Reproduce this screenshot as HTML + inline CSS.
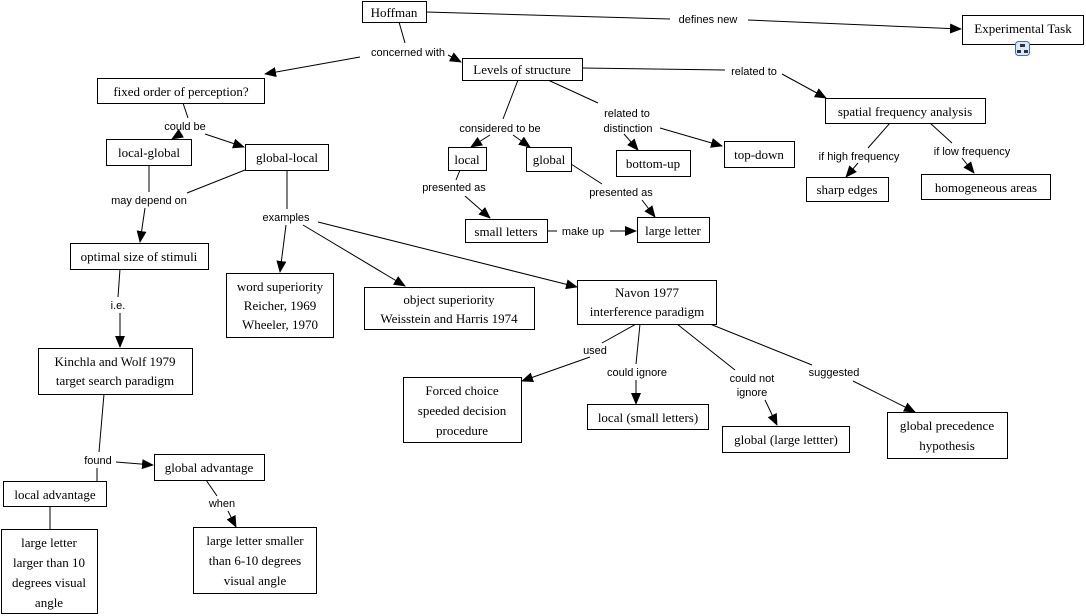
<!DOCTYPE html>
<html><head><meta charset="utf-8"><style>
html,body{margin:0;padding:0;background:#fff;width:1086px;height:616px;overflow:hidden}
svg{display:block}
.n{fill:#fff;stroke:#000;stroke-width:1}
.t{font-family:"Liberation Serif",serif;font-size:13px;fill:#000;text-anchor:middle}
.l{font-family:"Liberation Sans",sans-serif;font-size:11px;fill:#000;text-anchor:middle}
line{stroke:#000;stroke-width:1}
</style></head><body>
<svg width="1086" height="616" xmlns="http://www.w3.org/2000/svg">
<defs><marker id="a" markerWidth="12" markerHeight="10" refX="11" refY="5" orient="auto" markerUnits="userSpaceOnUse"><path d="M0,0 L12,5 L0,10 z" fill="#000"/></marker></defs>
<g>
<line x1="399" y1="22" x2="405" y2="43"/>
<line x1="360" y1="57" x2="265" y2="74" marker-end="url(#a)"/>
<line x1="448" y1="55" x2="461" y2="62" marker-end="url(#a)"/>
<line x1="426" y1="12" x2="670" y2="19"/>
<line x1="748" y1="20" x2="961" y2="29" marker-end="url(#a)"/>
<line x1="582" y1="68" x2="725" y2="70"/>
<line x1="782" y1="74" x2="826" y2="98" marker-end="url(#a)"/>
<line x1="518" y1="80" x2="503" y2="119"/>
<line x1="490" y1="135" x2="471" y2="147" marker-end="url(#a)"/>
<line x1="513" y1="135" x2="530" y2="147" marker-end="url(#a)"/>
<line x1="548" y1="80" x2="598" y2="103"/>
<line x1="624" y1="134" x2="638" y2="150" marker-end="url(#a)"/>
<line x1="660" y1="128" x2="722" y2="146" marker-end="url(#a)"/>
<line x1="890" y1="123" x2="868" y2="148"/>
<line x1="858" y1="163" x2="846" y2="177" marker-end="url(#a)"/>
<line x1="930" y1="123" x2="952" y2="143"/>
<line x1="962" y1="158" x2="974" y2="173" marker-end="url(#a)"/>
<line x1="183" y1="103" x2="188" y2="118"/>
<line x1="180" y1="134" x2="172" y2="139" marker-end="url(#a)"/>
<line x1="205" y1="134" x2="244" y2="147" marker-end="url(#a)"/>
<line x1="149" y1="165" x2="149" y2="192"/>
<line x1="245" y1="170" x2="187" y2="193"/>
<line x1="145" y1="208" x2="140" y2="242" marker-end="url(#a)"/>
<line x1="287" y1="170" x2="287" y2="209"/>
<line x1="286" y1="225" x2="280" y2="272" marker-end="url(#a)"/>
<line x1="303" y1="225" x2="405" y2="286" marker-end="url(#a)"/>
<line x1="318" y1="222" x2="577" y2="287" marker-end="url(#a)"/>
<line x1="460" y1="170" x2="456" y2="180"/>
<line x1="465" y1="196" x2="490" y2="218" marker-end="url(#a)"/>
<line x1="571" y1="164" x2="602" y2="184"/>
<line x1="642" y1="200" x2="655" y2="217" marker-end="url(#a)"/>
<line x1="547" y1="231" x2="557" y2="231"/>
<line x1="610" y1="231" x2="636" y2="231" marker-end="url(#a)"/>
<line x1="120" y1="269" x2="118" y2="297"/>
<line x1="120" y1="313" x2="120" y2="347" marker-end="url(#a)"/>
<line x1="104" y1="394" x2="99" y2="452"/>
<line x1="116" y1="462" x2="153" y2="465" marker-end="url(#a)"/>
<line x1="97" y1="468" x2="97" y2="481"/>
<line x1="50" y1="506" x2="50" y2="529"/>
<line x1="206" y1="480" x2="217" y2="496"/>
<line x1="228" y1="511" x2="236" y2="527" marker-end="url(#a)"/>
<line x1="636" y1="324" x2="602" y2="343"/>
<line x1="590" y1="357" x2="522" y2="381" marker-end="url(#a)"/>
<line x1="640" y1="324" x2="636" y2="364"/>
<line x1="636" y1="380" x2="636" y2="404" marker-end="url(#a)"/>
<line x1="677" y1="324" x2="735" y2="370"/>
<line x1="765" y1="400" x2="777" y2="425" marker-end="url(#a)"/>
<line x1="710" y1="324" x2="812" y2="365"/>
<line x1="853" y1="381" x2="915" y2="412" marker-end="url(#a)"/>
</g>
<g>
<rect x="362.5" y="1.5" width="64" height="21" class="n"/><text x="394" y="17" class="t">Hoffman</text>
<rect x="962.5" y="15.5" width="121" height="29" class="n"/><text x="1023" y="33" class="t">Experimental Task</text>
<rect x="1015.5" y="41.5" width="14" height="14" rx="3" fill="#dbe8fb" stroke="#3a6fc4"/><rect x="1020" y="44" width="5" height="3" fill="#333"/><rect x="1017" y="50" width="4" height="3" fill="#333"/><rect x="1024" y="50" width="4" height="3" fill="#333"/>
<rect x="462.5" y="58.5" width="120" height="22" class="n"/><text x="522" y="74" class="t">Levels of structure</text>
<rect x="97.5" y="78.5" width="167" height="25" class="n"/><text x="181" y="96" class="t">fixed order of perception?</text>
<rect x="106.5" y="139.5" width="85" height="26" class="n"/><text x="149" y="157" class="t">local-global</text>
<rect x="245.5" y="144.5" width="83" height="26" class="n"/><text x="287" y="162" class="t">global-local</text>
<rect x="448.5" y="147.5" width="38" height="23" class="n"/><text x="467" y="164" class="t">local</text>
<rect x="526.5" y="147.5" width="45" height="24" class="n"/><text x="549" y="164" class="t">global</text>
<rect x="616.5" y="150.5" width="74" height="26" class="n"/><text x="653" y="168" class="t">bottom-up</text>
<rect x="724.5" y="141.5" width="70" height="26" class="n"/><text x="759" y="159" class="t">top-down</text>
<rect x="825.5" y="98.5" width="160" height="25" class="n"/><text x="905" y="116" class="t">spatial frequency analysis</text>
<rect x="806.5" y="177.5" width="82" height="24" class="n"/><text x="847" y="194" class="t">sharp edges</text>
<rect x="921.5" y="174.5" width="129" height="25" class="n"/><text x="986" y="192" class="t">homogeneous areas</text>
<rect x="465.5" y="219.5" width="82" height="23" class="n"/><text x="506" y="236" class="t">small letters</text>
<rect x="637.5" y="217.5" width="72" height="25" class="n"/><text x="673" y="235" class="t">large letter</text>
<rect x="70.5" y="243.5" width="138" height="26" class="n"/><text x="139" y="261" class="t">optimal size of stimuli</text>
<rect x="226.5" y="273.5" width="107" height="64" class="n"/><text x="280" y="291" class="t">word superiority</text><text x="280" y="310" class="t">Reicher, 1969</text><text x="280" y="329" class="t">Wheeler, 1970</text>
<rect x="364.5" y="287.5" width="170" height="42" class="n"/><text x="449" y="304" class="t">object superiority</text><text x="449" y="323" class="t">Weisstein and Harris 1974</text>
<rect x="577.5" y="280.5" width="139" height="44" class="n"/><text x="647" y="297" class="t">Navon 1977</text><text x="647" y="316" class="t">interference paradigm</text>
<rect x="38.5" y="348.5" width="154" height="46" class="n"/><text x="115" y="366" class="t">Kinchla and Wolf 1979</text><text x="115" y="385" class="t">target search paradigm</text>
<rect x="403.5" y="377.5" width="118" height="65" class="n"/><text x="462" y="395" class="t">Forced choice</text><text x="462" y="415" class="t">speeded decision</text><text x="462" y="435" class="t">procedure</text>
<rect x="587.5" y="404.5" width="121" height="25" class="n"/><text x="648" y="422" class="t">local (small letters)</text>
<rect x="722.5" y="426.5" width="127" height="26" class="n"/><text x="786" y="444" class="t">global (large lettter)</text>
<rect x="887.5" y="412.5" width="120" height="46" class="n"/><text x="947" y="430" class="t">global precedence</text><text x="947" y="450" class="t">hypothesis</text>
<rect x="154.5" y="454.5" width="110" height="26" class="n"/><text x="209" y="472" class="t">global advantage</text>
<rect x="3.5" y="481.5" width="103" height="25" class="n"/><text x="55" y="499" class="t">local advantage</text>
<rect x="1.5" y="529.5" width="96" height="84" class="n"/><text x="49" y="547" class="t">large letter</text><text x="49" y="567" class="t">larger than 10</text><text x="49" y="587" class="t">degrees visual</text><text x="49" y="607" class="t">angle</text>
<rect x="193.5" y="527.5" width="123" height="66" class="n"/><text x="255" y="545" class="t">large letter smaller</text><text x="255" y="565" class="t">than 6-10 degrees</text><text x="255" y="585" class="t">visual angle</text>
</g>
<g>
<text x="708" y="23" class="l">defines new</text>
<text x="408" y="56" class="l">concerned with</text>
<text x="754" y="75" class="l">related to</text>
<text x="185" y="130" class="l">could be</text>
<text x="500" y="132" class="l">considered to be</text>
<text x="627" y="117" class="l">related to</text>
<text x="628" y="132" class="l">distinction</text>
<text x="859" y="160" class="l">if high frequency</text>
<text x="972" y="155" class="l">if low frequency</text>
<text x="149" y="204" class="l">may depend on</text>
<text x="286" y="221" class="l">examples</text>
<text x="454" y="191" class="l">presented as</text>
<text x="621" y="196" class="l">presented as</text>
<text x="583" y="235" class="l">make up</text>
<text x="118" y="309" class="l">i.e.</text>
<text x="595" y="354" class="l">used</text>
<text x="637" y="376" class="l">could ignore</text>
<text x="752" y="382" class="l">could not</text>
<text x="752" y="396" class="l">ignore</text>
<text x="834" y="376" class="l">suggested</text>
<text x="98" y="464" class="l">found</text>
<text x="222" y="507" class="l">when</text>
</g>
</svg>
</body></html>
